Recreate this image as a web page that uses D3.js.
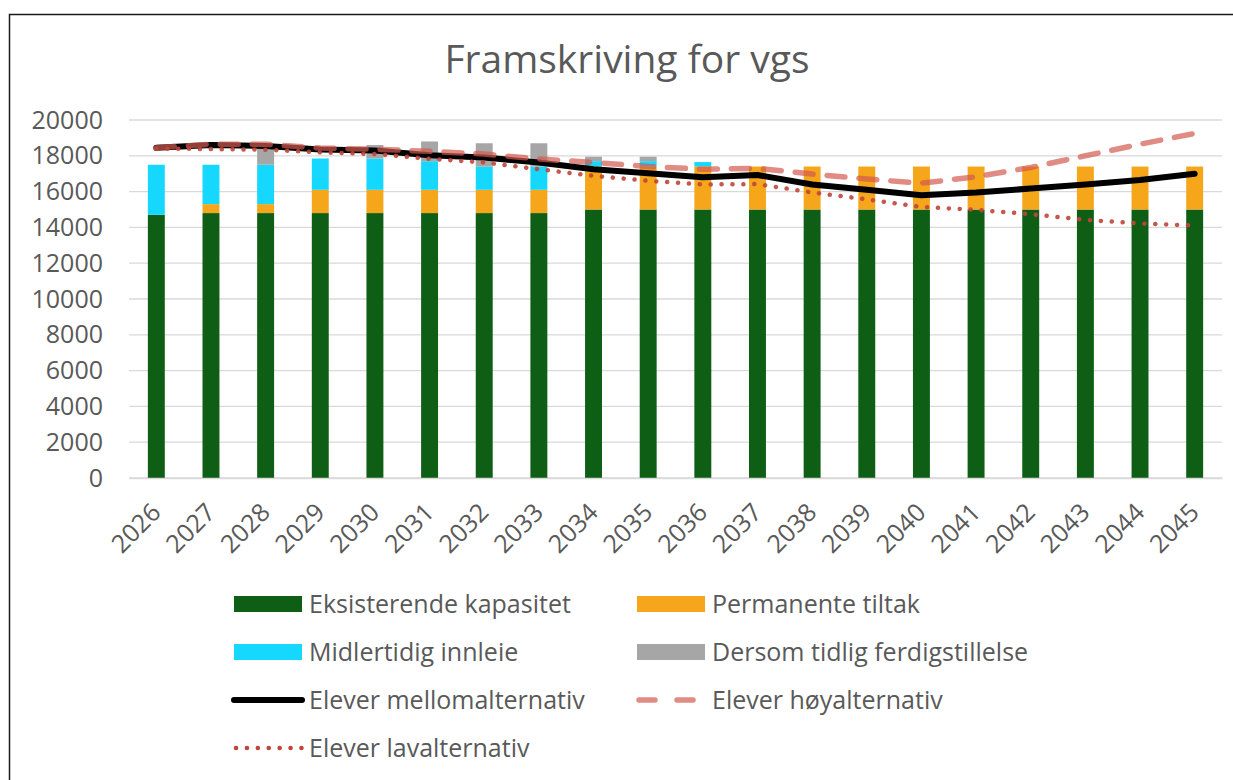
<!DOCTYPE html>
<html>
<head>
<meta charset="utf-8">
<script src="https://cdn.jsdelivr.net/npm/d3@7/dist/d3.min.js"></script>
<style>
  html, body { margin: 0; padding: 0; background: #fff; }
  svg { display: block; font-family: "Open Sans", "Noto Sans", sans-serif; }
</style>
</head>
<body>
<svg id="chart" width="1233" height="780"></svg>
<script>
// Years on the category axis
const years = ["2026","2027","2028","2029","2030","2031","2032","2033","2034","2035",
               "2036","2037","2038","2039","2040","2041","2042","2043","2044","2045"];

// Stacked capacity components (places)
const eksisterende = [14700,14800,14800,14800,14800,14800,14800,14800,15000,15000,
                      15000,15000,15000,15000,15000,15000,15000,15000,15000,15000];
const permanente   = [0,500,500,1300,1300,1300,1300,1300,2400,2400,
                      2400,2400,2400,2400,2400,2400,2400,2400,2400,2400];
const midlertidig  = [2800,2200,2200,1750,1750,1600,1300,1300,300,300,
                      250,0,0,0,0,0,0,0,0,0];
const tidlig       = [0,0,1100,0,750,1100,1300,1300,250,250,
                      0,0,0,0,0,0,0,0,0,0];

// Student projections
const mellom = [18450,18600,18550,18350,18300,18030,17900,17630,17250,17030,
                16800,16930,16400,16100,15800,15950,16170,16400,16650,17000];
const hoy    = [18450,18650,18650,18430,18370,18250,18100,17820,17630,17400,
                17250,17300,16980,16700,16470,16830,17350,18000,18650,19250];
const lav    = [18400,18380,18340,18190,18100,17830,17630,17250,16880,16600,
                16400,16420,15950,15570,15140,14980,14740,14420,14220,14100];

const yTicks = [0,2000,4000,6000,8000,10000,12000,14000,16000,18000,20000];

const stackKeys = ["eksisterende","permanente","midlertidig","tidlig"];
const stackColors = {
  eksisterende: "#0f5e15",
  permanente:   "#f5a61a",
  midlertidig:  "#16d8ff",
  tidlig:       "#a6a6a6"
};
const stackNames = {
  eksisterende: "Eksisterende kapasitet",
  permanente:   "Permanente tiltak",
  midlertidig:  "Midlertidig innleie",
  tidlig:       "Dersom tidlig ferdigstillelse"
};

const rows = years.map((y, i) => ({
  year: y,
  eksisterende: eksisterende[i],
  permanente: permanente[i],
  midlertidig: midlertidig[i],
  tidlig: tidlig[i]
}));

const svg = d3.select("#chart");
const textColor = "#595959";

// Outer frame
svg.append("rect")
  .attr("x", 9.5).attr("y", 14.5)
  .attr("width", 1240).attr("height", 800)
  .attr("fill", "#fff")
  .attr("stroke", "#1a1a1a").attr("stroke-width", 1.5);

// Title
svg.append("text")
  .attr("x", 627).attr("y", 73)
  .attr("text-anchor", "middle")
  .attr("fill", textColor)
  .attr("font-size", 39)
  .text("Framskriving for vgs");

const plot = { left: 129, right: 1222, top: 120, bottom: 478 };

const x = d3.scaleBand()
  .domain(years)
  .range([plot.left, plot.right])
  .paddingInner(0.69)
  .paddingOuter(0.345);

const y = d3.scaleLinear()
  .domain([0, 20000])
  .range([plot.bottom, plot.top]);

// Gridlines
svg.append("g")
  .selectAll("line")
  .data(yTicks)
  .join("line")
  .attr("x1", plot.left).attr("x2", plot.right)
  .attr("y1", d => y(d)).attr("y2", d => y(d))
  .attr("stroke", "#d9d9d9").attr("stroke-width", 1.3);

// Y axis labels
const yAxis = d3.axisLeft(y).tickValues(yTicks).tickSize(0).tickPadding(0).tickFormat(d3.format("d"));
const gy = svg.append("g")
  .attr("transform", `translate(${plot.left - 26},0)`)
  .call(yAxis);
gy.select(".domain").remove();
gy.selectAll("text")
  .attr("fill", textColor)
  .attr("font-size", 25)
  .attr("font-family", "\"Open Sans\", sans-serif");

// Stacked bars
const stacked = d3.stack().keys(stackKeys)(rows);
svg.append("g")
  .selectAll("g")
  .data(stacked)
  .join("g")
  .attr("fill", s => stackColors[s.key])
  .selectAll("rect")
  .data(s => s)
  .join("rect")
  .attr("x", d => x(d.data.year))
  .attr("width", x.bandwidth())
  .attr("y", d => y(d[1]))
  .attr("height", d => Math.max(0, y(d[0]) - y(d[1])));

// X axis
const xAxis = d3.axisBottom(x).tickSize(0).tickPadding(0);
const gx = svg.append("g")
  .attr("transform", `translate(0,${plot.bottom})`)
  .call(xAxis);
gx.select(".domain")
  .attr("stroke", "#d9d9d9").attr("stroke-width", 1.3);
gx.selectAll("text")
  .attr("fill", textColor)
  .attr("font-size", 25)
  .attr("font-family", "\"Open Sans\", sans-serif")
  .attr("text-anchor", "end")
  .attr("dy", 0)
  .attr("transform", "translate(6,36) rotate(-45)");

// Projection lines
const cx = d => x(d) + x.bandwidth() / 2;
const lineGen = vals => d3.line()
  .x((d, i) => cx(years[i]))
  .y(d => y(d))(vals);

svg.append("path")
  .attr("d", lineGen(mellom))
  .attr("fill", "none")
  .attr("stroke", "#000")
  .attr("stroke-width", 6)
  .attr("stroke-linejoin", "round")
  .attr("stroke-linecap", "round");

svg.append("path")
  .attr("d", lineGen(hoy))
  .attr("fill", "none")
  .attr("stroke", "#d35a4e")
  .attr("stroke-opacity", 0.7)
  .attr("stroke-width", 5.5)
  .attr("stroke-dasharray", "18 14")
  .attr("stroke-linecap", "round");

svg.append("path")
  .attr("d", lineGen(lav))
  .attr("fill", "none")
  .attr("stroke", "#c0453a")
  .attr("stroke-opacity", 0.9)
  .attr("stroke-width", 4.5)
  .attr("stroke-dasharray", "0.1 10.8")
  .attr("stroke-linecap", "round");

// Legend
const legend = svg.append("g").attr("font-size", 25).attr("fill", textColor);
const legendItems = [
  { type: "rect", key: "eksisterende", col: 0, row: 0 },
  { type: "rect", key: "permanente",   col: 1, row: 0 },
  { type: "rect", key: "midlertidig",  col: 0, row: 1 },
  { type: "rect", key: "tidlig",       col: 1, row: 1 },
  { type: "solid",  name: "Elever mellomalternativ", col: 0, row: 2 },
  { type: "dash",   name: "Elever høyalternativ",    col: 1, row: 2 },
  { type: "dot",    name: "Elever lavalternativ",    col: 0, row: 3 }
];
const colX = [234, 637];
const rowY = [604, 652, 700, 748];

legendItems.forEach(it => {
  const gx0 = colX[it.col], gy0 = rowY[it.row];
  const g = legend.append("g");
  if (it.type === "rect") {
    g.append("rect")
      .attr("x", gx0).attr("y", gy0 - 8)
      .attr("width", 68).attr("height", 16)
      .attr("fill", stackColors[it.key]);
  } else if (it.type === "solid") {
    g.append("line")
      .attr("x1", gx0).attr("x2", gx0 + 68)
      .attr("y1", gy0).attr("y2", gy0)
      .attr("stroke", "#000").attr("stroke-width", 6)
      .attr("stroke-linecap", "round");
  } else if (it.type === "dash") {
    g.append("line")
      .attr("x1", gx0 + 2).attr("x2", gx0 + 68)
      .attr("y1", gy0).attr("y2", gy0)
      .attr("stroke", "#d35a4e").attr("stroke-opacity", 0.7)
      .attr("stroke-width", 5.5)
      .attr("stroke-dasharray", "16 22")
      .attr("stroke-linecap", "round");
  } else {
    g.append("line")
      .attr("x1", gx0 + 2).attr("x2", gx0 + 68)
      .attr("y1", gy0).attr("y2", gy0)
      .attr("stroke", "#c0453a").attr("stroke-width", 4.5)
      .attr("stroke-dasharray", "0.1 10.8")
      .attr("stroke-linecap", "round");
  }
  g.append("text")
    .attr("x", gx0 + 75).attr("y", gy0 + 9)
    .text(it.type === "rect" ? stackNames[it.key] : it.name);
});
</script>
</body>
</html>
